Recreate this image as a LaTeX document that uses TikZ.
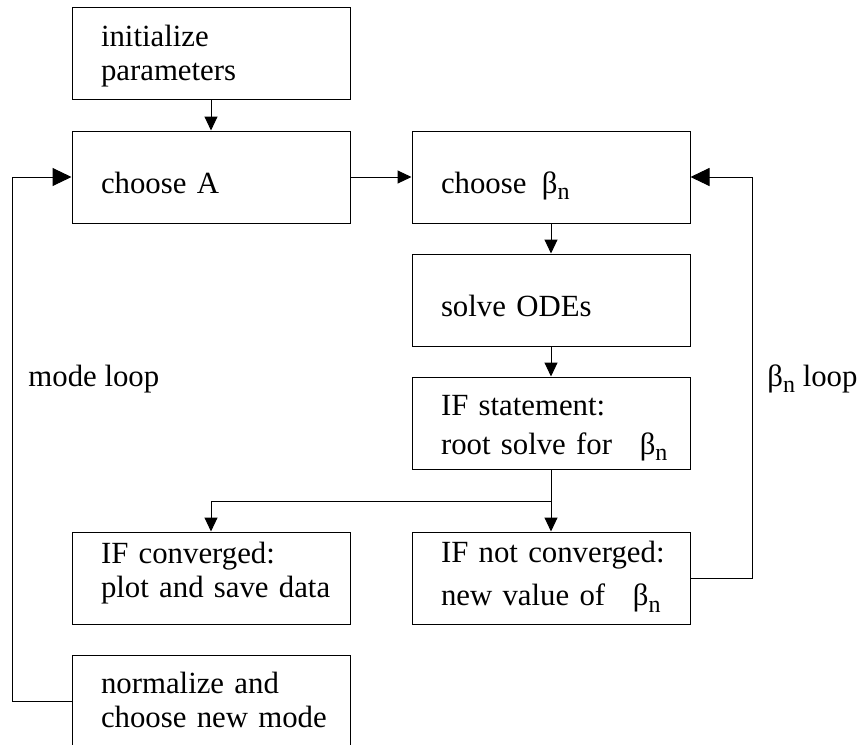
\documentclass[tikz,border=0pt]{standalone}
\usepackage{fontspec}
\setmainfont{Liberation Serif}
\usetikzlibrary{arrows.meta}

% upright beta with a lowered n
\newcommand{\betan}{β\raisebox{-0.45ex}{\fontsize{12}{12}\selectfont n}}

\begin{document}
\begin{tikzpicture}[x=0.5pt, y=-0.5pt,
    font=\fontsize{15.4}{17}\selectfont,
    box/.style={draw, line width=0.5pt, minimum width=139pt, minimum height=46pt,
        text width=124pt, inner xsep=7.5pt, inner ysep=0pt, align=left,
        text depth=17.5pt, execute at begin node={\leftskip=7pt}},
    oneline/.style={text height=16pt, text depth=0pt},
    flow/.style={line width=0.5pt, -{Triangle[length=7pt, width=6.5pt]}},
    back/.style={line width=0.5pt, -{Triangle[length=9.5pt, width=9pt]}}]

    \useasboundingbox (0,0) rectangle (863,745);

    % Left column
    \node[box] (init) at (211,53) {initialize\\parameters};
    \node[box, oneline] (chooseA) at (211,177) {choose A};
    \node[box, text depth=25pt] (conv) at (211,578) {IF converged:\\plot and save data};
    \node[box, text depth=18.5pt] (normal) at (211,701) {normalize and\\choose new mode};

    % Right column
    \node[box, oneline] (chooseB) at (551,177) {choose\hspace{0.5em}\betan};
    \node[box, oneline] (solve) at (551,300) {solve ODEs};
    \node[box, text depth=18pt] (ifstat) at (551,423) {IF statement:\\[2.5pt]root solve for\hspace{0.9em}\betan};
    \node[box, text depth=26pt] (notconv) at (551,578) {IF not converged:\\[4.5pt]new value of\hspace{0.9em}\betan};

    % Turning points of the loops
    \coordinate (split) at (551,501);
    \coordinate (mturn) at (12,177);
    \coordinate (bturn) at (752,177);

    % Straight arrows
    \draw[flow] (init) -- (chooseA);
    \draw[flow] (chooseA) -- (chooseB);
    \draw[flow] (chooseB) -- (solve);
    \draw[flow] (solve) -- (ifstat);
    \draw[flow] (ifstat) -- (notconv);
    \draw[flow] (split) -| (conv.north);

    % Loops back
    \draw[back] (normal.west) -| (mturn) -- (chooseA.west);
    \draw[back] (notconv.east) -| (bturn) -- (chooseB.east);

    % Loop names
    \node[anchor=base west, inner sep=0pt] (modelabel) at (28,386) {mode loop};
    \node[anchor=base west, inner sep=0pt] (betalabel) at (767,386) {\betan\ loop};

\end{tikzpicture}
\end{document}
